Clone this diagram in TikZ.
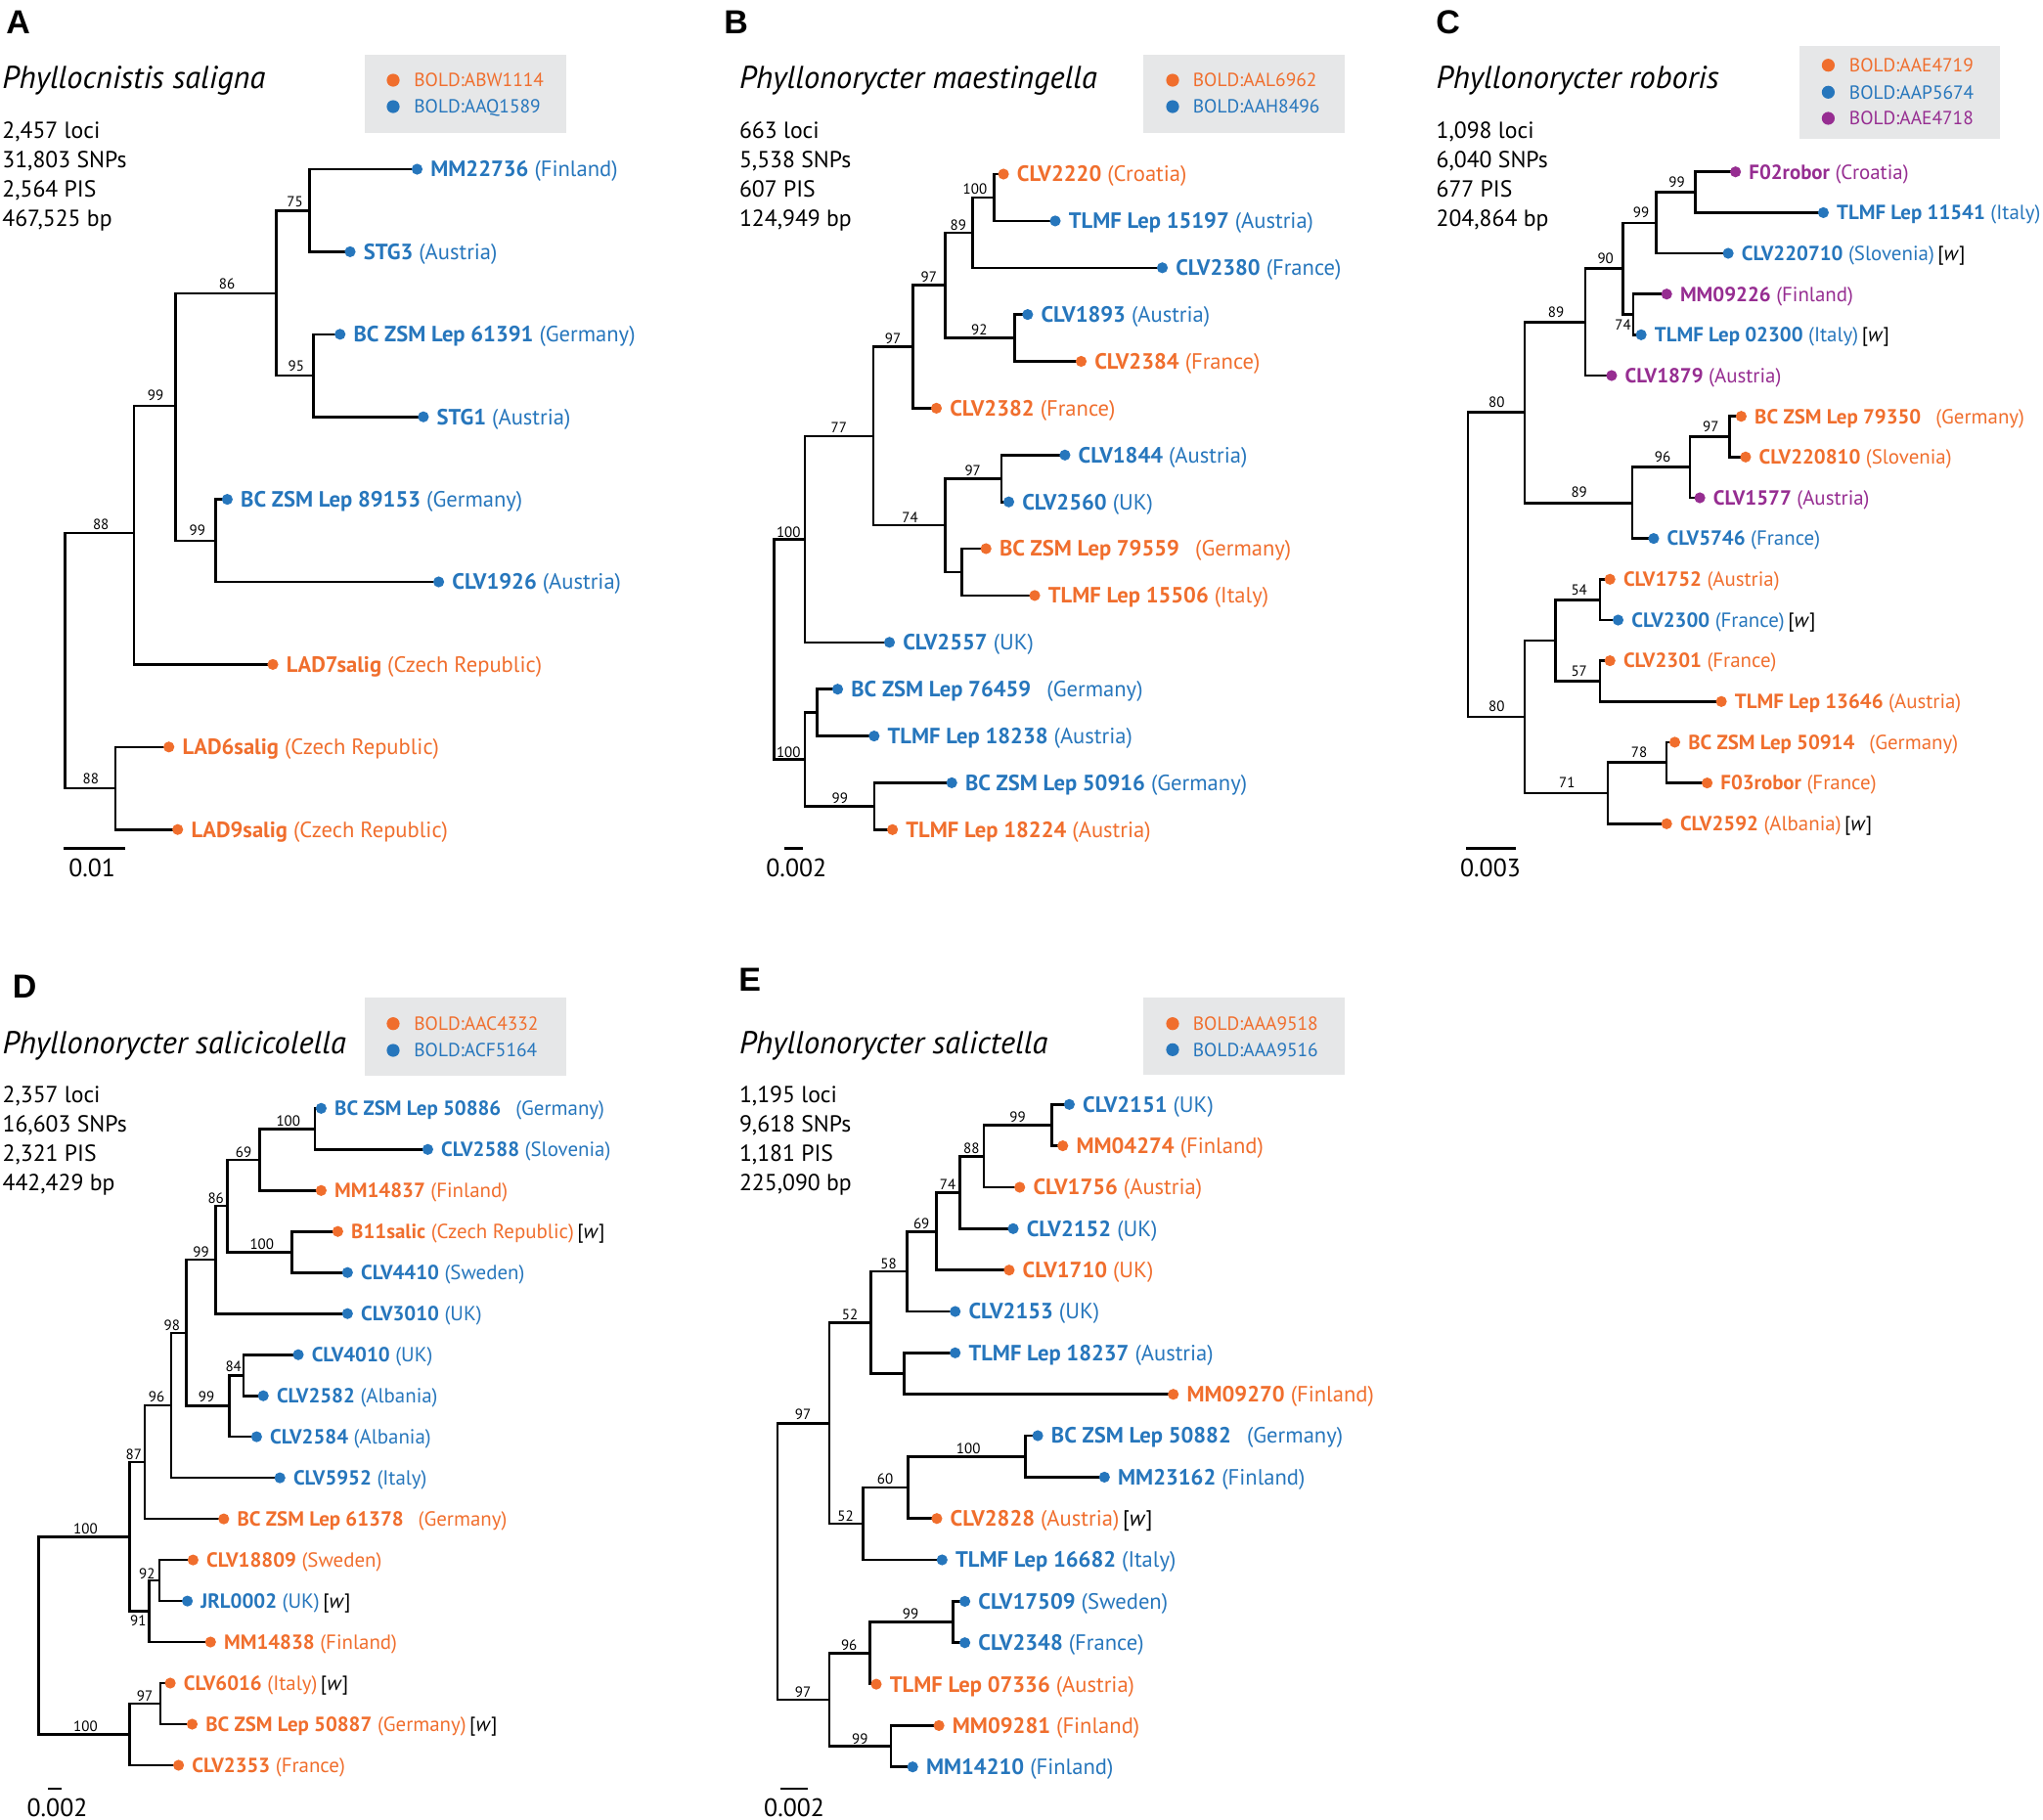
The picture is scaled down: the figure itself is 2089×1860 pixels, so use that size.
\documentclass[tikz,border=0pt]{standalone}
\usepackage{fontspec}
\setmainfont{PT Sans}
\newfontfamily\letterfont{Liberation Sans}
\definecolor{corange}{RGB}{240,110,45}
\definecolor{cblue}{RGB}{38,118,188}
\definecolor{cpurple}{RGB}{150,45,145}
\definecolor{cgray}{RGB}{230,231,232}
\tikzset{
 br/.style={line width=1.3pt, line cap=rect, line join=miter, black},
 sbar/.style={line width=1.3pt, black},
 dot/.style={circle, inner sep=0pt, minimum size=5.6pt, draw=none},
 ldot/.style={circle, inner sep=0pt, minimum size=6.6pt, draw=none},
 labbig/.style={inner sep=0pt, anchor=base west, font=\fontsize{11.3}{13}\selectfont},
 labsmall/.style={inner sep=0pt, anchor=base west, font=\fontsize{10.45}{12}\selectfont},
 lgtext/.style={inner sep=0pt, anchor=base west, font=\fontsize{9.7}{11}\selectfont},
 bs/.style={inner sep=0pt, font=\fontsize{7.5}{8}\selectfont},
 stat/.style={inner sep=0pt, anchor=base west, font=\fontsize{11.85}{13}\selectfont},
 sctext/.style={inner sep=0pt, anchor=center, font=\fontsize{12.9}{14}\selectfont},
 ttl/.style={inner sep=0pt, anchor=base west, font=\fontsize{16.2}{18}\selectfont\itshape},
 letter/.style={inner sep=0pt, anchor=base west, font=\fontsize{17}{19}\selectfont\letterfont\bfseries},
 lgbox/.style={fill=cgray, draw=none}
}
\newcommand\Br[3]{\draw[br] (#1) |- (#2); \draw[br] (#1) |- (#3);}
\def\labdy{7.9}
\def\labst{labbig}
\newcommand\Lf[4]{\node[dot, fill=#2] (#1d) at (#1) {};
  \node[\labst, text=#2] (#1t) at ([shift={(13.4,\labdy)}]#1) {\textbf{#3} #4};}
\newcommand\Bs[3]{\node[bs] (#1) at (#2) {#3};}
\newcommand\W{\,\textcolor{black}{[\textit{w}]}}
\newcommand\dsp{\hspace{0.45em}}
\begin{document}
\begin{tikzpicture}[x=0.5pt,y=-0.5pt]
\useasboundingbox (0,0) rectangle (2089,1860);
% ================= Panel A =================
\node[letter] (pA) at (6,34) {A};
\node[ttl] (tA) at (2,90.7) {Phyllocnistis saligna};
\node[stat] (sA1) at (2,141.7) {2,457 loci};
\node[stat] (sA2) at (2,171.7) {31,803 SNPs};
\node[stat] (sA3) at (2,201.7) {2,564 PIS};
\node[stat] (sA4) at (2,231.7) {467,525 bp};
\fill[lgbox] (373,56) rectangle (579,136);
\node[ldot, fill=corange] (gA1) at (402,82) {};
\node[ldot, fill=cblue] (gA2) at (402,109) {};
\node[lgtext, text=corange] (gA1t) at (423,88.7) {BOLD:ABW1114};
\node[lgtext, text=cblue] (gA2t) at (423,115.7) {BOLD:AAQ1589};
\coordinate (a1) at (426.5,173);
\coordinate (a2) at (358,257.4);
\coordinate (a3) at (347.7,341.8);
\coordinate (a4) at (432.9,426.2);
\coordinate (a5) at (232.4,510.6);
\coordinate (a6) at (448.6,595);
\coordinate (a7) at (279,679.4);
\coordinate (a8) at (172.7,763.8);
\coordinate (a9) at (181.7,848.2);
\coordinate (an75) at (316.7,215.2);
\coordinate (an95) at (320.3,384);
\coordinate (an86) at (282.6,300);
\coordinate (an99b) at (220.7,552.8);
\coordinate (an99) at (179.5,415);
\coordinate (an88) at (136.8,545);
\coordinate (an88b) at (118,806);
\coordinate (aroot) at (66.4,675);
\Br{an75}{a1}{a2} \Br{an95}{a3}{a4} \Br{an86}{an75}{an95} \Br{an99b}{a5}{a6}
\Br{an99}{an86}{an99b} \Br{an88}{an99}{a7} \Br{an88b}{a8}{a9} \Br{aroot}{an88}{an88b}
\Lf{a1}{cblue}{MM22736}{(Finland)}
\Lf{a2}{cblue}{STG3}{(Austria)}
\Lf{a3}{cblue}{BC ZSM Lep 61391}{(Germany)}
\Lf{a4}{cblue}{STG1}{(Austria)}
\Lf{a5}{cblue}{BC ZSM Lep 89153}{(Germany)}
\Lf{a6}{cblue}{CLV1926}{(Austria)}
\Lf{a7}{corange}{LAD7salig}{(Czech Republic)}
\Lf{a8}{corange}{LAD6salig}{(Czech Republic)}
\Lf{a9}{corange}{LAD9salig}{(Czech Republic)}
\Bs{ab1}{301.5,206}{75} \Bs{ab2}{232,290}{86} \Bs{ab3}{302.8,374}{95}
\Bs{ab4}{159,404}{99} \Bs{ab5}{201.9,542.7}{99} \Bs{ab6}{103.2,536}{88}
\Bs{ab7}{92.9,796.7}{88}
\coordinate (asb1) at (65,867.7); \coordinate (asb2) at (127.9,867.7);
\draw[sbar] (asb1) -- (asb2);
\node[sctext] (asbt) at (94.2,887) {0.01};
% ================= Panel B =================
\node[letter] (pB) at (740,34) {B};
\node[ttl] (tB) at (755.6,90.7) {Phyllonorycter maestingella};
\node[stat] (sB1) at (755.6,141.7) {663 loci};
\node[stat] (sB2) at (755.6,171.7) {5,538 SNPs};
\node[stat] (sB3) at (755.6,201.7) {607 PIS};
\node[stat] (sB4) at (755.6,231.7) {124,949 bp};
\fill[lgbox] (1169,56) rectangle (1375,136);
\node[ldot, fill=corange] (gB1) at (1199,82) {};
\node[ldot, fill=cblue] (gB2) at (1199,109) {};
\node[lgtext, text=corange] (gB1t) at (1219.5,88.7) {BOLD:AAL6962};
\node[lgtext, text=cblue] (gB2t) at (1219.5,115.7) {BOLD:AAH8496};
\coordinate (b1) at (1026.1,178);
\coordinate (b2) at (1079,225.9);
\coordinate (b3) at (1188.5,273.8);
\coordinate (b4) at (1050.8,321.6);
\coordinate (b5) at (1105.5,369.5);
\coordinate (b6) at (957.5,417.4);
\coordinate (b7) at (1088.9,465.3);
\coordinate (b8) at (1031.5,513.2);
\coordinate (b9) at (1008.2,561);
\coordinate (b10) at (1058,608.9);
\coordinate (b11) at (909.5,656.8);
\coordinate (b12) at (856.5,704.7);
\coordinate (b13) at (893.8,752.6);
\coordinate (b14) at (973.2,800.4);
\coordinate (b15) at (912.6,848.3);
\coordinate (bn100a) at (1016.2,201.9);
\coordinate (bn89) at (994.7,237.8);
\coordinate (bn92) at (1037.3,345.6);
\coordinate (bn97a) at (966.4,291.7);
\coordinate (bn97b) at (933.2,354.6);
\coordinate (bn97c) at (1023.9,489.2);
\coordinate (bnu1) at (983.5,585);
\coordinate (bn74) at (966.4,537.1);
\coordinate (bn77) at (892.9,445.9);
\coordinate (bn100b) at (822.9,551.3);
\coordinate (bnu2) at (835.4,728.6);
\coordinate (bn99) at (893.8,824.4);
\coordinate (bn100c) at (822.9,776.5);
\coordinate (broot) at (791.5,663.9);
\Br{bn100a}{b1}{b2} \Br{bn89}{bn100a}{b3} \Br{bn92}{b4}{b5} \Br{bn97a}{bn89}{bn92}
\Br{bn97b}{bn97a}{b6} \Br{bn97c}{b7}{b8} \Br{bnu1}{b9}{b10} \Br{bn74}{bn97c}{bnu1}
\Br{bn77}{bn97b}{bn74} \Br{bn100b}{bn77}{b11} \Br{bnu2}{b12}{b13} \Br{bn99}{b14}{b15}
\Br{bn100c}{bnu2}{bn99} \Br{broot}{bn100b}{bn100c}
\Lf{b1}{corange}{CLV2220}{(Croatia)}
\Lf{b2}{cblue}{TLMF Lep 15197}{(Austria)}
\Lf{b3}{cblue}{CLV2380}{(France)}
\Lf{b4}{cblue}{CLV1893}{(Austria)}
\Lf{b5}{corange}{CLV2384}{(France)}
\Lf{b6}{corange}{CLV2382}{(France)}
\Lf{b7}{cblue}{CLV1844}{(Austria)}
\Lf{b8}{cblue}{CLV2560}{(UK)}
\Lf{b9}{corange}{BC ZSM Lep 79559}{\dsp(Germany)}
\Lf{b10}{corange}{TLMF Lep 15506}{(Italy)}
\Lf{b11}{cblue}{CLV2557}{(UK)}
\Lf{b12}{cblue}{BC ZSM Lep 76459}{\dsp(Germany)}
\Lf{b13}{cblue}{TLMF Lep 18238}{(Austria)}
\Lf{b14}{cblue}{BC ZSM Lep 50916}{(Germany)}
\Lf{b15}{corange}{TLMF Lep 18224}{(Austria)}
\Bs{bb1}{997,193.3}{100} \Bs{bb2}{979.9,230}{89} \Bs{bb3}{949.8,283.3}{97}
\Bs{bb4}{1001.4,337.7}{92} \Bs{bb5}{913,346.7}{97} \Bs{bb6}{857.9,437.7}{77}
\Bs{bb7}{930.5,529.3}{74} \Bs{bb8}{994.7,481}{97} \Bs{bb9}{806.3,544.3}{100}
\Bs{bb10}{806.3,769.3}{100} \Bs{bb11}{858.8,816.7}{99}
\coordinate (bsb1) at (801.8,867.7); \coordinate (bsb2) at (821.1,867.7);
\draw[sbar] (bsb1) -- (bsb2);
\node[sctext] (bsbt) at (814.3,887) {0.002};
% ================= Panel C =================
\def\labdy{7.3}
\def\labst{labsmall}
\node[letter] (pC) at (1468,34) {C};
\node[ttl] (tC) at (1468.2,90.7) {Phyllonorycter roboris};
\node[stat] (sC1) at (1468.2,141.7) {1,098 loci};
\node[stat] (sC2) at (1468.2,171.7) {6,040 SNPs};
\node[stat] (sC3) at (1468.2,201.7) {677 PIS};
\node[stat] (sC4) at (1468.2,231.7) {204,864 bp};
\fill[lgbox] (1840,47) rectangle (2045,142);
\node[ldot, fill=corange] (gC1) at (1869.4,66.7) {};
\node[ldot, fill=cblue] (gC2) at (1869.4,94.3) {};
\node[ldot, fill=cpurple] (gC3) at (1869.4,121) {};
\node[lgtext, text=corange] (gC1t) at (1890.5,73.4) {BOLD:AAE4719};
\node[lgtext, text=cblue] (gC2t) at (1890.5,101) {BOLD:AAP5674};
\node[lgtext, text=cpurple] (gC3t) at (1890.5,127.7) {BOLD:AAE4718};
\coordinate (c1) at (1774.6,175.7);
\coordinate (c2) at (1864.4,217.4);
\coordinate (c3) at (1767.1,259);
\coordinate (c4) at (1704.2,300.7);
\coordinate (c5) at (1678.1,342.3);
\coordinate (c6) at (1647.9,384);
\coordinate (c7) at (1780.4,425.7);
\coordinate (c8) at (1784.9,467.3);
\coordinate (c9) at (1738.1,509);
\coordinate (c10) at (1690.9,550.6);
\coordinate (c11) at (1646.2,592.3);
\coordinate (c12) at (1654.5,634);
\coordinate (c13) at (1646.2,675.6);
\coordinate (c14) at (1760.1,717.3);
\coordinate (c15) at (1712.5,758.9);
\coordinate (c16) at (1745.6,800.6);
\coordinate (c17) at (1704.2,842.3);
\coordinate (cn99a) at (1733.2,196.6);
\coordinate (cn99b) at (1693.4,227.8);
\coordinate (cn74) at (1669.8,321.5);
\coordinate (cn90) at (1659.5,274.6);
\coordinate (cn89a) at (1621,329.3);
\coordinate (cn97) at (1768.4,446.5);
\coordinate (cn96) at (1727.8,477.7);
\coordinate (cn89b) at (1669,514.2);
\coordinate (cn80a) at (1558.8,421.7);
\coordinate (cn54) at (1635.9,613.2);
\coordinate (cn57) at (1635.9,696.4);
\coordinate (cnu) at (1590.3,654.8);
\coordinate (cn78) at (1703.8,779.7);
\coordinate (cn71) at (1644.1,811);
\coordinate (cn80b) at (1558.8,732.9);
\coordinate (croot) at (1500.9,577.3);
\Br{cn99a}{c1}{c2} \Br{cn99b}{cn99a}{c3} \Br{cn74}{c4}{c5} \Br{cn90}{cn99b}{cn74}
\Br{cn89a}{cn90}{c6} \Br{cn97}{c7}{c8} \Br{cn96}{cn97}{c9} \Br{cn89b}{cn96}{c10}
\Br{cn80a}{cn89a}{cn89b} \Br{cn54}{c11}{c12} \Br{cn57}{c13}{c14} \Br{cnu}{cn54}{cn57}
\Br{cn78}{c15}{c16} \Br{cn71}{cn78}{c17} \Br{cn80b}{cnu}{cn71} \Br{croot}{cn80a}{cn80b}
\Lf{c1}{cpurple}{F02robor}{(Croatia)}
\Lf{c2}{cblue}{TLMF Lep 11541}{(Italy)}
\Lf{c3}{cblue}{CLV220710}{(Slovenia)\W}
\Lf{c4}{cpurple}{MM09226}{(Finland)}
\Lf{c5}{cblue}{TLMF Lep 02300}{(Italy)\W}
\Lf{c6}{cpurple}{CLV1879}{(Austria)}
\Lf{c7}{corange}{BC ZSM Lep 79350}{\dsp(Germany)}
\Lf{c8}{corange}{CLV220810}{(Slovenia)}
\Lf{c9}{cpurple}{CLV1577}{(Austria)}
\Lf{c10}{cblue}{CLV5746}{(France)}
\Lf{c11}{corange}{CLV1752}{(Austria)}
\Lf{c12}{cblue}{CLV2300}{(France)\W}
\Lf{c13}{corange}{CLV2301}{(France)}
\Lf{c14}{corange}{TLMF Lep 13646}{(Austria)}
\Lf{c15}{corange}{BC ZSM Lep 50914}{\dsp(Germany)}
\Lf{c16}{corange}{F03robor}{(France)}
\Lf{c17}{corange}{CLV2592}{(Albania)\W}
\Bs{cb1}{1714.5,186.7}{99} \Bs{cb2}{1678.1,217.3}{99} \Bs{cb3}{1659.5,332.3}{74}
\Bs{cb4}{1641.7,264.3}{90} \Bs{cb5}{1591.1,319}{89} \Bs{cb6}{1530.3,411.7}{80}
\Bs{cb7}{1749.3,436}{97} \Bs{cb8}{1700,467.3}{96} \Bs{cb9}{1614.7,503.3}{89}
\Bs{cb10}{1614.7,603.3}{54} \Bs{cb11}{1614.7,686}{57} \Bs{cb12}{1676,769.3}{78}
\Bs{cb13}{1602.3,800}{71} \Bs{cb14}{1530.3,722.3}{80}
\coordinate (csb1) at (1499.2,867.7); \coordinate (csb2) at (1549.7,867.7);
\draw[sbar] (csb1) -- (csb2);
\node[sctext] (csbt) at (1524,887) {0.003};
% ================= Panel D =================
\node[letter] (pD) at (12.5,1020) {D};
\node[ttl] (tD) at (2.2,1077) {Phyllonorycter salicicolella};
\node[stat] (sD1) at (2.2,1127.7) {2,357 loci};
\node[stat] (sD2) at (2.2,1157.7) {16,603 SNPs};
\node[stat] (sD3) at (2.2,1187.7) {2,321 PIS};
\node[stat] (sD4) at (2.2,1217.7) {442,429 bp};
\fill[lgbox] (373,1020) rectangle (579,1100);
\node[ldot, fill=corange] (gD1) at (402,1046.7) {};
\node[ldot, fill=cblue] (gD2) at (402,1074) {};
\node[lgtext, text=corange] (gD1t) at (423,1053.4) {BOLD:AAC4332};
\node[lgtext, text=cblue] (gD2t) at (423,1080.7) {BOLD:ACF5164};
\coordinate (d1) at (328.4,1133.3);
\coordinate (d2) at (437.4,1175.3);
\coordinate (d3) at (328.4,1217.3);
\coordinate (d4) at (345.4,1259.2);
\coordinate (d5) at (355.3,1301.2);
\coordinate (d6) at (355.3,1343.2);
\coordinate (d7) at (305,1385.2);
\coordinate (d8) at (269.2,1427.2);
\coordinate (d9) at (262.4,1469.1);
\coordinate (d10) at (286.2,1511.1);
\coordinate (d11) at (228.8,1553.1);
\coordinate (d12) at (197.4,1595.1);
\coordinate (d13) at (191.6,1637.1);
\coordinate (d14) at (215.3,1679);
\coordinate (d15) at (174.1,1721);
\coordinate (d16) at (196.5,1763);
\coordinate (d17) at (182.6,1805);
\coordinate (dn100a) at (322.1,1154.3);
\coordinate (dn69) at (265.6,1185.8);
\coordinate (dn100b) at (298.3,1280.2);
\coordinate (dn86) at (232.4,1233);
\coordinate (dn99a) at (220.7,1288.1);
\coordinate (dn84) at (249,1406.2);
\coordinate (dn99b) at (234.2,1437.7);
\coordinate (dn98) at (190.7,1362.9);
\coordinate (dn96) at (175,1437);
\coordinate (dn87) at (148,1495);
\coordinate (dn92) at (162.9,1616.1);
\coordinate (dn91) at (152.5,1647.6);
\coordinate (dn100c) at (132.3,1571.3);
\coordinate (dn97) at (163.8,1742);
\coordinate (dn100d) at (132.3,1773.5);
\coordinate (droot) at (39.5,1672.4);
\Br{dn100a}{d1}{d2} \Br{dn69}{dn100a}{d3} \Br{dn100b}{d4}{d5} \Br{dn86}{dn69}{dn100b}
\Br{dn99a}{dn86}{d6} \Br{dn84}{d7}{d8} \Br{dn99b}{dn84}{d9} \Br{dn98}{dn99a}{dn99b}
\Br{dn96}{dn98}{d10} \Br{dn87}{dn96}{d11} \Br{dn92}{d12}{d13} \Br{dn91}{dn92}{d14}
\Br{dn100c}{dn87}{dn91} \Br{dn97}{d15}{d16} \Br{dn100d}{dn97}{d17} \Br{droot}{dn100c}{dn100d}
\Lf{d1}{cblue}{BC ZSM Lep 50886}{\dsp(Germany)}
\Lf{d2}{cblue}{CLV2588}{(Slovenia)}
\Lf{d3}{corange}{MM14837}{(Finland)}
\Lf{d4}{corange}{B11salic}{(Czech Republic)\W}
\Lf{d5}{cblue}{CLV4410}{(Sweden)}
\Lf{d6}{cblue}{CLV3010}{(UK)}
\Lf{d7}{cblue}{CLV4010}{(UK)}
\Lf{d8}{cblue}{CLV2582}{(Albania)}
\Lf{d9}{cblue}{CLV2584}{(Albania)}
\Lf{d10}{cblue}{CLV5952}{(Italy)}
\Lf{d11}{corange}{BC ZSM Lep 61378}{\dsp(Germany)}
\Lf{d12}{corange}{CLV18809}{(Sweden)}
\Lf{d13}{cblue}{JRL0002}{(UK)\W}
\Lf{d14}{corange}{MM14838}{(Finland)}
\Lf{d15}{corange}{CLV6016}{(Italy)\W}
\Lf{d16}{corange}{BC ZSM Lep 50887}{(Germany)\W}
\Lf{d17}{corange}{CLV2353}{(France)}
\Bs{db1}{294.8,1146}{100} \Bs{db2}{249,1178.3}{69} \Bs{db3}{267.8,1272.3}{100}
\Bs{db4}{220.7,1225.7}{86} \Bs{db5}{205.5,1280.7}{99} \Bs{db6}{175.9,1355.7}{98}
\Bs{db7}{238.7,1397.7}{84} \Bs{db8}{211,1428}{99} \Bs{db9}{160,1428}{96}
\Bs{db10}{136.8,1487.3}{87} \Bs{db11}{150.3,1609}{92} \Bs{db12}{141.3,1657.7}{91}
\Bs{db13}{87.5,1563.3}{100} \Bs{db14}{148,1734}{97} \Bs{db15}{87.5,1765}{100}
\coordinate (dsb1) at (49.3,1829); \coordinate (dsb2) at (62.8,1829);
\draw[sbar] (dsb1) -- (dsb2);
\node[sctext] (dsbt) at (58.5,1848) {0.002};
% ================= Panel E =================
\def\labdy{7.9}
\def\labst{labbig}
\node[letter] (pE) at (755,1013) {E};
\node[ttl] (tE) at (755.6,1077) {Phyllonorycter salictella};
\node[stat] (sE1) at (755.6,1127.7) {1,195 loci};
\node[stat] (sE2) at (755.6,1157.7) {9,618 SNPs};
\node[stat] (sE3) at (755.6,1187.7) {1,181 PIS};
\node[stat] (sE4) at (755.6,1217.7) {225,090 bp};
\fill[lgbox] (1169,1020) rectangle (1375,1099.3);
\node[ldot, fill=corange] (gE1) at (1199,1046.7) {};
\node[ldot, fill=cblue] (gE2) at (1199,1073.3) {};
\node[lgtext, text=corange] (gE1t) at (1219.5,1053.4) {BOLD:AAA9518};
\node[lgtext, text=cblue] (gE2t) at (1219.5,1080) {BOLD:AAA9516};
\coordinate (e1) at (1093.4,1129.3);
\coordinate (e2) at (1086.7,1171.6);
\coordinate (e3) at (1042.7,1214);
\coordinate (e4) at (1036,1256.3);
\coordinate (e5) at (1031.9,1298.7);
\coordinate (e6) at (976.7,1341);
\coordinate (e7) at (976.7,1383.3);
\coordinate (e8) at (1199.7,1425.7);
\coordinate (e9) at (1061.1,1468);
\coordinate (e10) at (1129.3,1510.4);
\coordinate (e11) at (957.9,1552.7);
\coordinate (e12) at (963.3,1595);
\coordinate (e13) at (986.6,1637.4);
\coordinate (e14) at (986.6,1679.7);
\coordinate (e15) at (896,1722.1);
\coordinate (e16) at (960.1,1764.4);
\coordinate (e17) at (933.2,1806.7);
\coordinate (en99a) at (1075.4,1150.5);
\coordinate (en88) at (1005.9,1182.3);
\coordinate (en74) at (981.2,1219.3);
\coordinate (en69) at (957.5,1259.3);
\coordinate (en58) at (927.4,1300);
\coordinate (enu) at (924.3,1404.5);
\coordinate (en52a) at (890.6,1352.3);
\coordinate (en100) at (1048.5,1489.2);
\coordinate (en60) at (928.3,1520.9);
\coordinate (en52b) at (882.5,1558);
\coordinate (en97a) at (848,1455.2);
\coordinate (en99b) at (974.5,1658.5);
\coordinate (en96) at (889.3,1690.3);
\coordinate (en99c) at (910.8,1785.5);
\coordinate (en97b) at (848,1737.9);
\coordinate (eroot) at (795,1596.6);
\Br{en99a}{e1}{e2} \Br{en88}{en99a}{e3} \Br{en74}{en88}{e4} \Br{en69}{en74}{e5}
\Br{en58}{en69}{e6} \Br{enu}{e7}{e8} \Br{en52a}{en58}{enu} \Br{en100}{e9}{e10}
\Br{en60}{en100}{e11} \Br{en52b}{en60}{e12} \Br{en97a}{en52a}{en52b} \Br{en99b}{e13}{e14}
\Br{en96}{en99b}{e15} \Br{en99c}{e16}{e17} \Br{en97b}{en96}{en99c} \Br{eroot}{en97a}{en97b}
\Lf{e1}{cblue}{CLV2151}{(UK)}
\Lf{e2}{corange}{MM04274}{(Finland)}
\Lf{e3}{corange}{CLV1756}{(Austria)}
\Lf{e4}{cblue}{CLV2152}{(UK)}
\Lf{e5}{corange}{CLV1710}{(UK)}
\Lf{e6}{cblue}{CLV2153}{(UK)}
\Lf{e7}{cblue}{TLMF Lep 18237}{(Austria)}
\Lf{e8}{corange}{MM09270}{(Finland)}
\Lf{e9}{cblue}{BC ZSM Lep 50882}{\dsp(Germany)}
\Lf{e10}{cblue}{MM23162}{(Finland)}
\Lf{e11}{corange}{CLV2828}{(Austria)\W}
\Lf{e12}{cblue}{TLMF Lep 16682}{(Italy)}
\Lf{e13}{cblue}{CLV17509}{(Sweden)}
\Lf{e14}{cblue}{CLV2348}{(France)}
\Lf{e15}{corange}{TLMF Lep 07336}{(Austria)}
\Lf{e16}{corange}{MM09281}{(Finland)}
\Lf{e17}{cblue}{MM14210}{(Finland)}
\Bs{eb1}{1040.5,1142.3}{99} \Bs{eb2}{993.3,1174}{88} \Bs{eb3}{969.1,1211}{74}
\Bs{eb4}{942.2,1251}{69} \Bs{eb5}{908.6,1292.3}{58} \Bs{eb6}{869.1,1344.3}{52}
\Bs{eb7}{821.1,1446.7}{97} \Bs{eb8}{990.2,1481.7}{100} \Bs{eb9}{905,1512.7}{60}
\Bs{eb10}{864.6,1550}{52} \Bs{eb11}{931,1650.7}{99} \Bs{eb12}{868.2,1682.7}{96}
\Bs{eb13}{879.4,1778.3}{99} \Bs{eb14}{821.1,1730}{97}
\coordinate (esb1) at (798.2,1829); \coordinate (esb2) at (826,1829);
\draw[sbar] (esb1) -- (esb2);
\node[sctext] (esbt) at (812.1,1848) {0.002};
\end{tikzpicture}
\end{document}
